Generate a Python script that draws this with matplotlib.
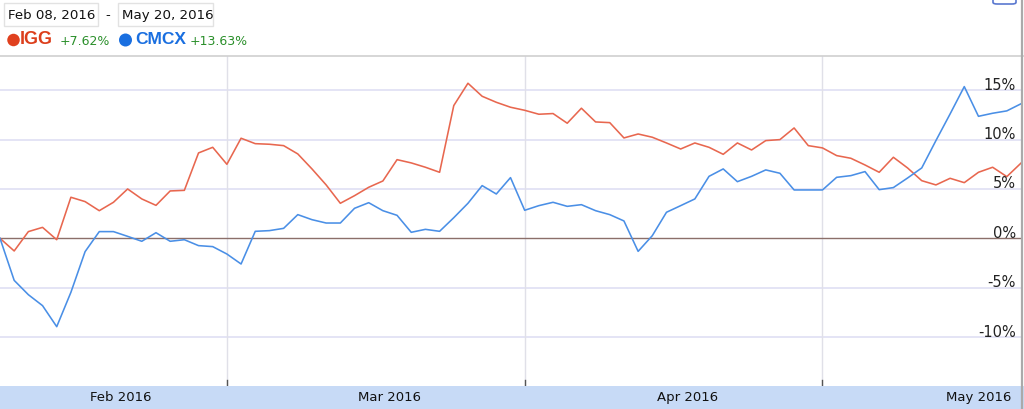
import matplotlib
matplotlib.use("Agg")
import matplotlib.pyplot as plt
import matplotlib.patches as patches
import matplotlib.transforms as mtransforms
import numpy as np

# % change since Feb 08, 2016, one value per trading day
igg = [0, -1.28, 0.68, 1.11, -0.14, 4.16, 3.72, 2.80, 3.65, 5.0, 3.99, 3.34,
       4.80, 4.86, 8.65, 9.22, 7.5, 10.14, 9.59, 9.53, 9.39, 8.55, 7.03, 5.41,
       3.55, 4.32, 5.17, 5.81, 7.97, 7.64, 7.2, 6.69, 13.45, 15.71, 14.39,
       13.78, 13.28, 12.97, 12.57, 12.64, 11.66, 13.18, 11.79, 11.72, 10.17,
       10.57, 10.24, 9.66, 9.05, 9.66, 9.22, 8.51, 9.66, 8.95, 9.9, 10.0,
       11.18, 9.39, 9.16, 8.38, 8.11, 7.43, 6.69, 8.21, 7.13, 5.84, 5.41,
       6.08, 5.64, 6.69, 7.2, 6.25, 7.62]
cmcx = [0, -4.26, -5.71, -6.82, -8.95, -5.47, -1.35, 0.68, 0.68, 0.2, -0.3,
        0.57, -0.3, -0.14, -0.74, -0.84, -1.59, -2.6, 0.71, 0.78, 1.01, 2.4,
        1.89, 1.55, 1.55, 3.04, 3.61, 2.8, 2.33, 0.61, 0.91, 0.71, 2.09, 3.55,
        5.34, 4.49, 6.15, 2.84, 3.31, 3.65, 3.24, 3.41, 2.8, 2.4, 1.76, -1.32,
        0.27, 2.64, 3.31, 3.99, 6.28, 7.03, 5.74, 6.28, 6.93, 6.59, 4.9, 4.9,
        4.9, 6.18, 6.35, 6.76, 4.93, 5.14, 6.11, 7.13, 9.9, 12.6, 15.37, 12.36,
        12.67, 12.91, 13.63]
days = np.arange(len(igg))

month_breaks = [16, 37, 58]          # first trading day of Mar, Apr, May
month_labels = ["Feb 2016", "Mar 2016", "Apr 2016", "May 2016"]
month_label_pos = [8.5, 27.5, 48.5, 69.0]
y_ticks = [-10, -5, 0, 5, 10, 15]

W, H = 1024, 410
fig = plt.figure(figsize=(W / 100, H / 100), dpi=100)
fig.patch.set_facecolor("white")


def fx(x):
    return x / W


def fy(y):
    return 1 - y / H


ax = fig.add_axes([0, fy(387), fx(1021), (387 - 57) / H])
ax.set_xlim(0, len(igg) - 1)
ax.set_ylim(-14.96, 18.47)
for s in ax.spines.values():
    s.set_visible(False)
ax.set_xticks([])
ax.set_yticks([])

for v in y_ticks:
    if v == 0:
        ax.axhline(0, color="#8b6f6a", lw=1.0, zorder=3)
    else:
        ax.axhline(v, color="#e2e2f4", lw=1.3, zorder=1)
for m in month_breaks:
    ax.axvline(m, color="#e0e0e8", lw=1.0, zorder=1)
    ax.plot([m, m], [0, 0.018], transform=mtransforms.blended_transform_factory(ax.transData, ax.transAxes),
            color="#555555", lw=1.0, clip_on=False)

ax.plot(days, igg, color="#e8674f", lw=1.15, zorder=4)
ax.plot(days, cmcx, color="#4a8fe6", lw=1.15, zorder=4)

trans = mtransforms.blended_transform_factory(ax.transAxes, ax.transData)
for v in y_ticks:
    ax.text(0.9948, v + 0.15, "%d%%" % v, transform=trans, ha="right",
            va="baseline", fontsize=10.5, color="#222222", zorder=5)

# bottom date band
fig.patches.append(patches.Rectangle((0, 0), 1, fy(387), transform=fig.transFigure,
                                     facecolor="#c7daf6", edgecolor="none"))
tx = mtransforms.blended_transform_factory(ax.transData, fig.transFigure)
for p, lab in zip(month_label_pos, month_labels):
    fig.text(p, fy(397.5), lab, transform=tx, ha="center", va="center",
             fontsize=9.5, color="#111111")

# header
fig.add_artist(plt.Line2D([0, 1], [fy(56.5), fy(56.5)], color="#d0d0d0", lw=1.2))
for x0, x1, lab in [(4, 98, "Feb 08, 2016"), (118, 213, "May 20, 2016")]:
    fig.patches.append(patches.Rectangle((fx(x0), fy(27)), fx(x1 - x0), 23 / H,
                                         transform=fig.transFigure, facecolor="white",
                                         edgecolor="#e2e2e2", lw=1))
    fig.text(fx(x0 + 4), fy(15.5), lab, ha="left", va="center", fontsize=9.6, color="#111111")
fig.text(fx(108), fy(15.5), "-", ha="center", va="center", fontsize=9.6, color="#111111")

fig.patches.append(patches.Ellipse((fx(13.5), fy(41)), fx(12.5), 12.5 / H,
                                   transform=fig.transFigure, facecolor="#e0401e", edgecolor="none"))
fig.text(fx(20), fy(40), "IGG", ha="left", va="center", fontsize=13, fontweight="bold",
         family="Liberation Sans", color="#dc3f1c")
fig.text(fx(60), fy(41.5), "+7.62%", ha="left", va="center", fontsize=9, color="#2a8f2a")
fig.patches.append(patches.Ellipse((fx(125.5), fy(41)), fx(13), 13 / H,
                                   transform=fig.transFigure, facecolor="#1a6fe0", edgecolor="none"))
fig.text(fx(135), fy(40), "CMCX", ha="left", va="center", fontsize=12.5, fontweight="bold",
         family="Liberation Sans", color="#1a6fe0")
fig.text(fx(190), fy(41.5), "+13.63%", ha="left", va="center", fontsize=9, color="#2a8f2a")

# button corner and right border
fig.patches.append(patches.FancyBboxPatch((fx(993), fy(5)), fx(23), 12 / H,
                                          boxstyle="round,pad=0,rounding_size=0.004",
                                          transform=fig.transFigure, facecolor="white",
                                          edgecolor="#5a78d0", lw=1.2))
fig.add_artist(plt.Line2D([fx(1021.8), fx(1021.8)], [0, 1], color="#aaaaaa", lw=1.6))

fig.savefig("out.png", dpi=100, facecolor="white")
